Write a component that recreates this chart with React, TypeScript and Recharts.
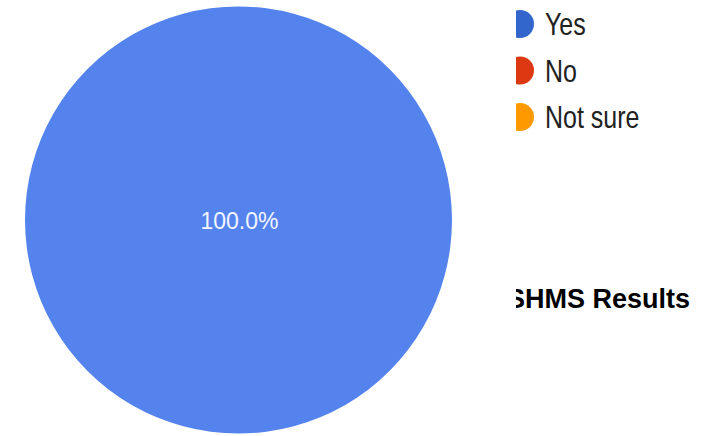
import { PieChart, Pie, Cell, Legend } from "recharts"

const categories = ["Yes", "No", "Not sure"]
const values = [100, 0, 0]
const legendColors = ["#3366cc", "#dc3912", "#ff9900"]
const sliceColors = ["#5483ed", "#dc3912", "#ff9900"]
const title = "SHMS Results"

const data = categories.map((name, i) => ({ name, value: values[i] }))
const total = values.reduce((a, b) => a + b, 0)

const W = 713
const H = 436

function renderLabel(props: any) {
  if (props.index !== 0) return null
  const pct = ((props.value / total) * 100).toFixed(1) + "%"
  return (
    <text
      x={props.cx + 1}
      y={props.cy + 9}
      textAnchor="middle"
      fill="#f2f5ff"
      fontSize={23}
      fontFamily="'Liberation Sans', Arial, sans-serif"
    >
      {pct}
    </text>
  )
}

function SideContent() {
  return (
    <svg width={W} height={H} style={{ display: "block" }}>
      <defs>
        <clipPath id="cut">
          <rect x={516} y={0} width={W - 516} height={H} />
        </clipPath>
      </defs>
      <g clipPath="url(#cut)" fontFamily="'Liberation Sans', Arial, sans-serif">
        {categories.map((c, i) => {
          const cy = 24 + i * 46.5
          return (
            <g key={c}>
              <circle cx={520} cy={cy} r={14} fill={legendColors[i]} />
              <text
                transform={`translate(545, ${cy + 11}) scale(1, 1.22)`}
                fontSize={25}
                fill="#222"
              >
                {c}
              </text>
            </g>
          )
        })}
        <text x={690} y={308} textAnchor="end" fontSize={27} fontWeight="bold" fill="#000">
          {title}
        </text>
      </g>
    </svg>
  )
}

export default function App() {
  return (
    <div style={{ position: "absolute", left: 0, top: 0, width: W, height: H, background: "#fff" }}>
      <PieChart width={W} height={H} margin={{ top: 0, right: 0, bottom: 0, left: 0 }}>
        <Pie
          data={data}
          dataKey="value"
          nameKey="name"
          cx={238.5}
          cy={220}
          outerRadius={213.5}
          startAngle={90}
          endAngle={-270}
          stroke="none"
          label={renderLabel}
          labelLine={false}
          isAnimationActive={false}
        >
          {data.map((d, i) => (
            <Cell key={d.name} fill={sliceColors[i]} />
          ))}
        </Pie>
        <Legend
          content={() => <SideContent />}
          wrapperStyle={{ position: "absolute", left: 0, top: 0, width: W, height: H, pointerEvents: "none" }}
        />
      </PieChart>
    </div>
  )
}
